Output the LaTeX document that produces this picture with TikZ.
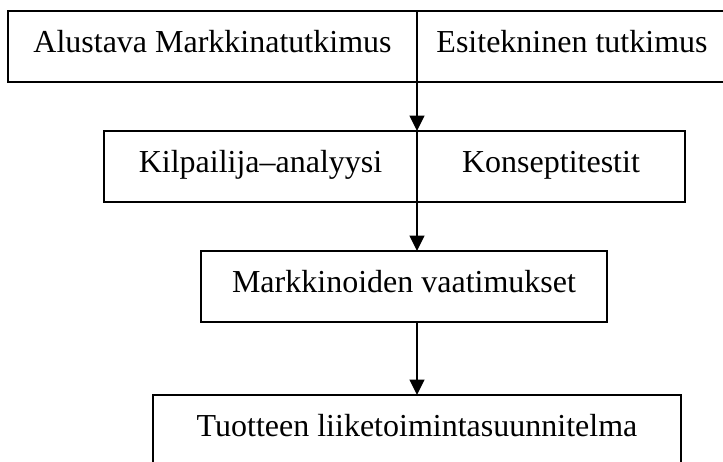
\documentclass[tikz,border=0pt]{standalone}
\usepackage{fontspec}
\setmainfont{Liberation Serif}
\usetikzlibrary{arrows.meta,positioning}

\begin{document}
\begin{tikzpicture}[x=0.75pt,y=-0.75pt,
    cell/.style={draw,line width=1.5pt,inner sep=0pt,outer sep=0pt,anchor=north west,
      minimum height=53.25pt,text height=30.75pt,text depth=22.5pt,
      font=\fontsize{24pt}{28pt}\selectfont},
    flow/.style={line width=1.5pt,-{Triangle[length=11.5pt,width=11pt]}}]
            \useasboundingbox (0,0) rectangle (723,461);

            % First row
            \node[cell,minimum width=306.75pt] (alku) at (8,11) {Alustava Markkinatutkimus};
            \node[cell,minimum width=232.5pt,right=0pt of alku] (tekn) {Esitekninen tutkimus};

            % Second row
            \node[cell,minimum width=234.75pt] (kilp) at (104,131) {Kilpailija--analyysi};
            \node[cell,minimum width=201pt,right=0pt of kilp] (konsepti) {Konseptitestit};

            % Third row
            \node[cell,minimum width=304.5pt] (vaat) at (201,251) {Markkinoiden vaatimukset};

            % Last row
            \node[cell,minimum width=396pt] (suun) at (153,395) {Tuotteen liiketoimintasuunnitelma};

            % Arrows between the rows
            \draw[flow] (alku.south east) -- (kilp.north east);
            \draw[flow] (kilp.south east) -- (kilp.south east |- vaat.north);
            \draw[flow] (vaat.south -| suun.north) -- (suun.north);
        \end{tikzpicture}
\end{document}
